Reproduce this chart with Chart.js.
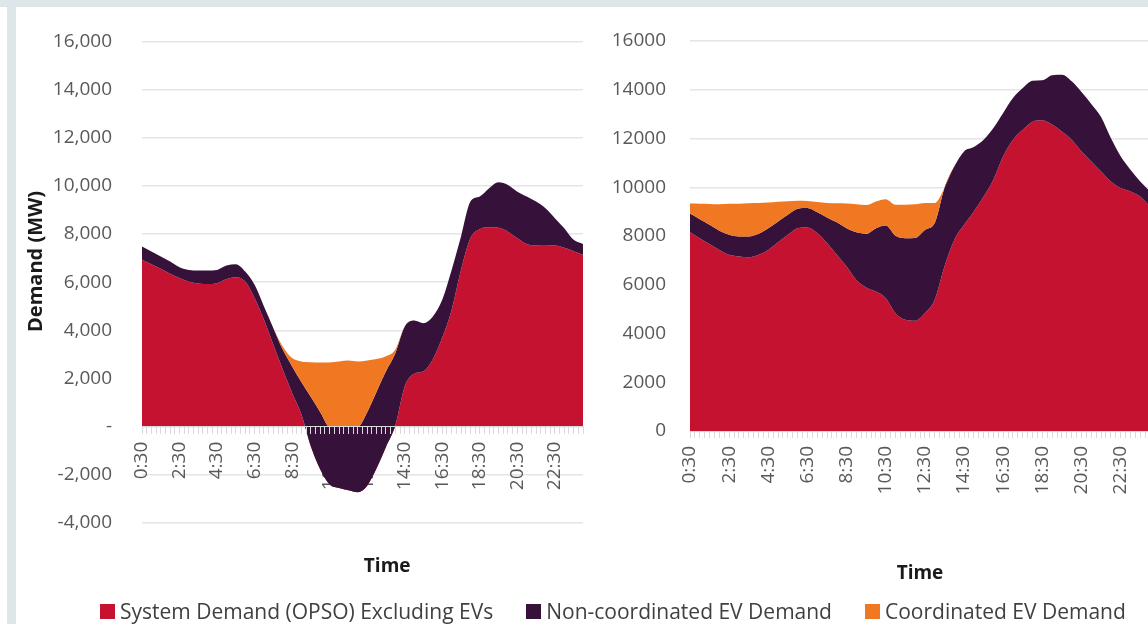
<!DOCTYPE html>
<html>
<head>
<meta charset="utf-8">
<script src="https://cdn.jsdelivr.net/npm/chart.js@4.4.1/dist/chart.umd.min.js"></script>
<style>
  body { margin: 0; width: 1148px; height: 624px; overflow: hidden; position: relative; background: #fff; font-family: "Open Sans", sans-serif; }
  .band-top { position: absolute; left: 0; top: 0; width: 1148px; height: 7px; background: #dfe6e9; }
  .band-left { position: absolute; left: 7px; top: 7px; width: 9px; height: 617px; background: #dfe6e9; }
  #leftBox { position: absolute; left: 0; top: 0; width: 600px; height: 624px; }
  #rightBox { position: absolute; left: 600px; top: 0; width: 560px; height: 624px; }
  #legend { position: absolute; left: 100px; top: 597px; display: flex; align-items: center; font-size: 21px; color: #404040; white-space: nowrap; }
  #legend .item { display: flex; align-items: center; margin-right: 33px; }
  #legend .sw { display: inline-block; width: 15px; height: 15px; margin-right: 5px; }
</style>
</head>
<body>
<div class="band-top"></div>
<div class="band-left"></div>
<div id="leftBox"><canvas id="leftChart"></canvas></div>
<div id="rightBox"><canvas id="rightChart"></canvas></div>
<div id="legend"></div>

<script>
// half-hourly time categories
const times = [
  "0:30", "1:00", "1:30", "2:00", "2:30", "3:00", "3:30", "4:00",
  "4:30", "5:00", "5:30", "6:00", "6:30", "7:00", "7:30", "8:00",
  "8:30", "9:00", "9:30", "10:00", "10:30", "11:00", "11:30", "12:00",
  "12:30", "13:00", "13:30", "14:00", "14:30", "15:00", "15:30", "16:00",
  "16:30", "17:00", "17:30", "18:00", "18:30", "19:00", "19:30", "20:00",
  "20:30", "21:00", "21:30", "22:00", "22:30", "23:00", "23:30", "24:00",
];
const tickLabels = ["0:30", "2:30", "4:30", "6:30", "8:30", "10:30", "12:30", "14:30", "16:30", "18:30", "20:30", "22:30"];
const seriesNames = ["System Demand (OPSO) Excluding EVs", "Non-coordinated EV Demand", "Coordinated EV Demand"];

// left chart (MW)
const sysLeft = [
  6930, 6750, 6560, 6350, 6170, 6020, 5950, 5930, 5960, 6130, 6210, 6030,
  5340, 4440, 3400, 2370, 1400, 500, -820, -1780, -2400, -2550, -2640, -2720,
  -2450, -1730, -840, 50, 1670, 2200, 2300, 2800, 3700, 4850, 6510, 7830,
  8200, 8280, 8260, 8100, 7830, 7590, 7520, 7510, 7520, 7430, 7290, 7140,
];
const nonCoordLeft = [
  550, 520, 510, 510, 450, 490, 540, 560, 550, 560, 540, 410,
  550, 550, 690, 830, 1100, 1350, 2050, 2380, 2400, 2550, 2640, 2720,
  3050, 3180, 3140, 3000, 2490, 2210, 2000, 1780, 1570, 1660, 1390, 1520,
  1360, 1620, 1890, 1940, 1930, 1970, 1830, 1560, 1140, 810, 470, 450,
];
const coordLeft = [
  0, 0, 0, 0, 0, 0, 0, 0, 0, 0, 0, 0,
  0, 0, 0, 130, 350, 860, 1450, 2070, 2670, 2710, 2750, 2710,
  2150, 1360, 620, 150, 0, 0, 0, 0, 0, 0, 0, 0,
  0, 0, 0, 0, 0, 0, 0, 0, 0, 0, 0, 0,
];

// right chart (MW)
const sysRight = [
  8150, 7910, 7670, 7430, 7230, 7160, 7130, 7230, 7430, 7740, 8050, 8320,
  8350, 8120, 7710, 7230, 6750, 6200, 5890, 5720, 5450, 4830, 4560, 4520,
  4830, 5380, 6750, 7840, 8460, 9010, 9620, 10310, 11270, 11950, 12360, 12690,
  12750, 12570, 12290, 11950, 11470, 11060, 10650, 10240, 9970, 9830, 9620, 9210,
];
const nonCoordRight = [
  770, 780, 790, 790, 820, 820, 850, 860, 890, 860, 820, 800,
  800, 850, 1050, 1330, 1570, 1950, 2200, 2600, 2980, 3180, 3350, 3400,
  3420, 3150, 3220, 3010, 3010, 2640, 2330, 2120, 1780, 1710, 1710, 1680,
  1640, 2030, 2330, 2400, 2440, 2360, 2230, 1780, 1300, 890, 620, 620,
];
const coordRight = [
  410, 630, 850, 1080, 1270, 1340, 1360, 1260, 1050, 810, 560, 330,
  290, 420, 590, 780, 1010, 1150, 1180, 1100, 1080, 1270, 1370, 1380,
  1100, 820, 0, 0, 0, 0, 0, 0, 0, 0, 0, 0,
  0, 0, 0, 0, 0, 0, 0, 0, 0, 0, 0, 0,
];

const colors = ["#c41230", "#36113a", "#f07822"];

Chart.defaults.font.family = "'Open Sans', sans-serif";
Chart.defaults.animation = false;

const toHours = (s) => {
  const [h, m] = s.split(":");
  return +h + +m / 60;
};
const toTime = (v) => {
  const h = Math.floor(v + 1e-6);
  const m = Math.round((v - h) * 60);
  return h + ":" + String(m).padStart(2, "0");
};
// leading blanks nudge the axis titles off-centre like the original
const nudge = (n) => "\u00a0".repeat(n);

// excel-style stacking: each area sits on the running total of the ones before it
function buildDatasets(sys, nonCoord, coord) {
  const c2 = sys.map((v, i) => v + nonCoord[i]);
  const c3 = c2.map((v, i) => v + coord[i]);
  const totals = [sys, c2, c3];
  return totals.map((vals, s) => ({
    label: seriesNames[s],
    data: vals.map((v, i) => ({ x: toHours(times[i]), y: v })),
    backgroundColor: colors[s],
    borderColor: colors[s],
    borderWidth: 0,
    pointRadius: 0,
    cubicInterpolationMode: "monotone",
    fill: s === 0 ? "origin" : "-1",
    order: 2 - s,
  }));
}

function makeChart(id, sys, nonCoord, coord, cfg) {
  const ctx = document.getElementById(id).getContext("2d");
  return new Chart(ctx, {
    type: "line",
    data: { datasets: buildDatasets(sys, nonCoord, coord) },
    options: {
      responsive: true,
      maintainAspectRatio: false,
      layout: { padding: cfg.padding },
      plugins: { legend: { display: false }, tooltip: { enabled: false } },
      scales: {
        x: {
          type: "linear",
          min: 0.5,
          max: 24,
          position: cfg.xPosition,
          afterFit: (scale) => {
            scale.height = cfg.xHeight;
            scale.paddingLeft = 0;
            scale.paddingRight = 0;
          },
          grid: { drawOnChartArea: false, drawTicks: true, tickLength: 7, color: "#dadada", lineWidth: 1, z: 1 },
          border: { display: true, color: "#dadada", width: 1, z: 1 },
          ticks: {
            stepSize: 0.25,
            autoSkip: false,
            minRotation: 90,
            maxRotation: 90,
            padding: 8,
            color: "#595959",
            font: { size: 19 },
            callback: (v) => {
              const t = toTime(v);
              return tickLabels.includes(t) ? t : "";
            },
          },
          title: {
            display: true,
            text: cfg.xTitle,
            color: "#1a1a1a",
            font: { size: 19, weight: "bold" },
            padding: { top: 0, bottom: 1 },
          },
        },
        y: {
          min: cfg.yMin,
          max: 16000,
          afterFit: (scale) => { scale.width = cfg.yWidth; },
          grid: { color: "#e4e4e9", lineWidth: 1.5, drawTicks: false },
          border: { display: false },
          ticks: {
            stepSize: 2000,
            padding: cfg.yPad,
            color: "#595959",
            font: { size: 19 },
            callback: cfg.yFormat,
          },
          title: {
            display: cfg.yTitle,
            text: nudge(8) + "Demand (MW)",
            color: "#1a1a1a",
            font: { size: 20, weight: "bold" },
            padding: { top: 24, bottom: 0 },
          },
        },
      },
    },
  });
}

makeChart("leftChart", sysLeft, nonCoordLeft, coordLeft, {
  padding: { top: 41, right: 17, bottom: 101, left: 0 },
  xPosition: { y: 0 },
  xHeight: 152,
  xTitle: nudge(10) + "Time",
  yMin: -4000,
  yWidth: 142,
  yPad: 30,
  yTitle: true,
  yFormat: (v) => (v === 0 ? "-" : v.toLocaleString("en-US")),
});

makeChart("rightChart", sysRight, nonCoordRight, coordRight, {
  padding: { top: 41, right: 10, bottom: 38, left: 0 },
  xPosition: "bottom",
  xHeight: 155,
  xTitle: "Time",
  yMin: 0,
  yWidth: 90,
  yPad: 24,
  yTitle: false,
  yFormat: (v) => String(v),
});

// shared legend under both charts
const legend = document.getElementById("legend");
seriesNames.forEach((name, i) => {
  const item = document.createElement("div");
  item.className = "item";
  const sw = document.createElement("span");
  sw.className = "sw";
  sw.style.background = colors[i];
  const txt = document.createElement("span");
  txt.textContent = name;
  item.appendChild(sw);
  item.appendChild(txt);
  legend.appendChild(item);
});
</script>
</body>
</html>
